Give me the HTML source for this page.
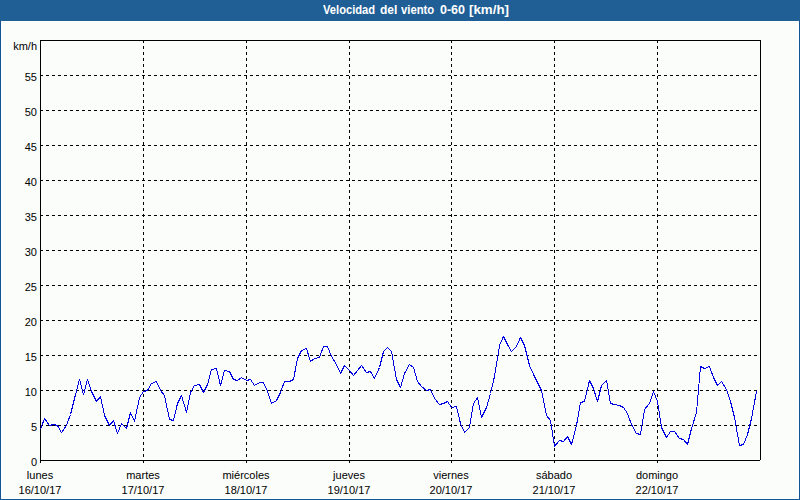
<!DOCTYPE html>
<html><head><meta charset="utf-8"><style>
html,body{margin:0;padding:0;width:800px;height:500px;overflow:hidden;background:#fbfdfb;}
body{position:relative;font-family:"Liberation Sans", sans-serif;font-size:11px;color:#000;}
div{position:absolute;}
#hdr{left:0;top:0;width:800px;height:21px;background:#1f5f96;}
#bl{left:0;top:21px;width:1px;height:479px;background:#105596;}
#br{left:799px;top:21px;width:1px;height:479px;background:#105596;}
#bb{left:0;top:499px;width:800px;height:1px;background:#105596;}
#hl{left:1px;top:21px;width:798px;height:478px;box-sizing:border-box;border:1px solid #fff;}
#title{}
.tw{top:3px;color:#fff;font-weight:bold;font-size:12px;line-height:14px;white-space:nowrap;transform-origin:0 0;}
.hg{left:40px;width:720px;height:1px;background:repeating-linear-gradient(to right,#000 0,#000 3px,transparent 3px,transparent 6px);}
.vg{top:40px;width:1px;height:420px;background:repeating-linear-gradient(to bottom,#000 0,#000 3px,transparent 3px,transparent 6px);}
.tick{top:460px;width:1px;height:3px;background:#000;}
#ft{left:40px;top:40px;width:721px;height:1px;background:#000;}
#fl{left:40px;top:40px;width:1px;height:423px;background:#000;}
#fr{left:760px;top:40px;width:1px;height:420px;background:#000;}
#fb{left:40px;top:460px;width:720px;height:1px;background:#000;}
.yl{left:0;width:37px;text-align:right;line-height:11px;white-space:nowrap;}
.xl{width:100px;text-align:center;line-height:13px;white-space:nowrap;}
#unit{left:1px;top:40px;width:36px;text-align:right;line-height:13px;}
svg{position:absolute;left:0;top:0;}
</style></head><body>
<div id="hdr"></div><div id="bl"></div><div id="br"></div><div id="bb"></div><div id="hl"></div>
<div class="tw" style="left:323px;transform:scaleX(0.93)">Velocidad</div><div class="tw" style="left:380px">del</div><div class="tw" style="left:401px;transform:scaleX(0.94)">viento</div><div class="tw" style="left:440px;transform:scaleX(1.04)">0-60</div><div class="tw" style="left:469px;transform:scaleX(1.11)">[km/h]</div>
<div class="hg" style="top:425px"></div><div class="yl" style="top:422px">5</div><div class="hg" style="top:390px"></div><div class="yl" style="top:387px">10</div><div class="hg" style="top:355px"></div><div class="yl" style="top:352px">15</div><div class="hg" style="top:320px"></div><div class="yl" style="top:317px">20</div><div class="hg" style="top:285px"></div><div class="yl" style="top:282px">25</div><div class="hg" style="top:250px"></div><div class="yl" style="top:247px">30</div><div class="hg" style="top:215px"></div><div class="yl" style="top:212px">35</div><div class="hg" style="top:180px"></div><div class="yl" style="top:177px">40</div><div class="hg" style="top:145px"></div><div class="yl" style="top:142px">45</div><div class="hg" style="top:110px"></div><div class="yl" style="top:107px">50</div><div class="hg" style="top:75px"></div><div class="yl" style="top:72px">55</div><div class="yl" style="top:457px">0</div><div class="tick" style="left:40px"></div><div class="xl" style="left:-10px;top:469px">lunes</div><div class="xl" style="left:-10px;top:484px">16/10/17</div><div class="vg" style="left:143px"></div><div class="tick" style="left:143px"></div><div class="xl" style="left:93px;top:469px">martes</div><div class="xl" style="left:93px;top:484px">17/10/17</div><div class="vg" style="left:246px"></div><div class="tick" style="left:246px"></div><div class="xl" style="left:196px;top:469px">miércoles</div><div class="xl" style="left:196px;top:484px">18/10/17</div><div class="vg" style="left:349px"></div><div class="tick" style="left:349px"></div><div class="xl" style="left:299px;top:469px">jueves</div><div class="xl" style="left:299px;top:484px">19/10/17</div><div class="vg" style="left:451px"></div><div class="tick" style="left:451px"></div><div class="xl" style="left:401px;top:469px">viernes</div><div class="xl" style="left:401px;top:484px">20/10/17</div><div class="vg" style="left:554px"></div><div class="tick" style="left:554px"></div><div class="xl" style="left:504px;top:469px">sábado</div><div class="xl" style="left:504px;top:484px">21/10/17</div><div class="vg" style="left:657px"></div><div class="tick" style="left:657px"></div><div class="xl" style="left:607px;top:469px">domingo</div><div class="xl" style="left:607px;top:484px">22/10/17</div>
<div id="ft"></div><div id="fl"></div><div id="fr"></div><div id="fb"></div>
<div id="unit">km/h</div>
<svg width="800" height="500" viewBox="0 0 800 500"><polyline points="40.5,429.5 44.5,418.5 49.5,425.5 53.5,424.5 57.5,425.5 61.5,432.5 66.5,425.5 70.5,414.5 74.5,398.5 79.5,379.5 83.5,394.5 87.5,379.5 91.5,391.5 96.5,401.5 100.5,396.5 104.5,415.5 109.5,425.5 113.5,420.5 117.5,433.5 121.5,423.5 126.5,428.5 130.5,412.5 134.5,421.5 139.5,397.5 143.5,391.5 147.5,390.5 151.5,383.5 156.5,381.5 160.5,390.5 164.5,395.5 169.5,419.5 173.5,420.5 177.5,403.5 181.5,395.5 186.5,412.5 190.5,392.5 194.5,385.5 199.5,384.5 203.5,392.5 207.5,384.5 211.5,369.5 216.5,368.5 220.5,385.5 224.5,370.5 229.5,371.5 233.5,379.5 237.5,380.5 241.5,377.5 246.5,380.5 250.5,379.5 254.5,385.5 259.5,382.5 263.5,382.5 267.5,391.5 271.5,403.5 276.5,400.5 280.5,392.5 284.5,381.5 289.5,381.5 293.5,379.5 297.5,358.5 301.5,350.5 306.5,348.5 310.5,361.5 314.5,358.5 319.5,357.5 323.5,346.5 327.5,346.5 331.5,356.5 336.5,364.5 340.5,373.5 344.5,365.5 349.5,370.5 353.5,375.5 357.5,370.5 361.5,365.5 366.5,372.5 370.5,371.5 374.5,378.5 379.5,367.5 383.5,351.5 387.5,347.5 391.5,351.5 396.5,379.5 400.5,387.5 404.5,373.5 409.5,364.5 413.5,367.5 417.5,381.5 421.5,386.5 426.5,390.5 430.5,389.5 434.5,398.5 439.5,404.5 443.5,403.5 447.5,401.5 451.5,407.5 456.5,406.5 460.5,423.5 464.5,432.5 469.5,427.5 473.5,403.5 477.5,397.5 481.5,417.5 486.5,407.5 490.5,393.5 494.5,376.5 499.5,345.5 503.5,336.5 507.5,344.5 511.5,351.5 516.5,346.5 520.5,337.5 524.5,345.5 529.5,365.5 533.5,374.5 537.5,382.5 541.5,390.5 546.5,415.5 550.5,420.5 554.5,446.5 559.5,440.5 563.5,441.5 567.5,436.5 571.5,444.5 576.5,425.5 580.5,402.5 584.5,401.5 589.5,380.5 593.5,388.5 597.5,401.5 601.5,385.5 606.5,380.5 610.5,403.5 614.5,404.5 619.5,405.5 623.5,407.5 627.5,413.5 631.5,424.5 636.5,433.5 640.5,434.5 644.5,409.5 649.5,403.5 653.5,391.5 657.5,401.5 661.5,427.5 666.5,437.5 670.5,431.5 674.5,431.5 679.5,438.5 683.5,439.5 687.5,444.5 691.5,428.5 696.5,412.5 700.5,366.5 704.5,368.5 709.5,366.5 713.5,377.5 717.5,385.5 721.5,381.5 726.5,389.5 730.5,401.5 734.5,417.5 739.5,445.5 743.5,444.5 747.5,434.5 751.5,418.5 756.5,391.5" fill="none" stroke="#0000e0" stroke-width="1" stroke-linejoin="bevel" shape-rendering="crispEdges"/></svg>
</body></html>
